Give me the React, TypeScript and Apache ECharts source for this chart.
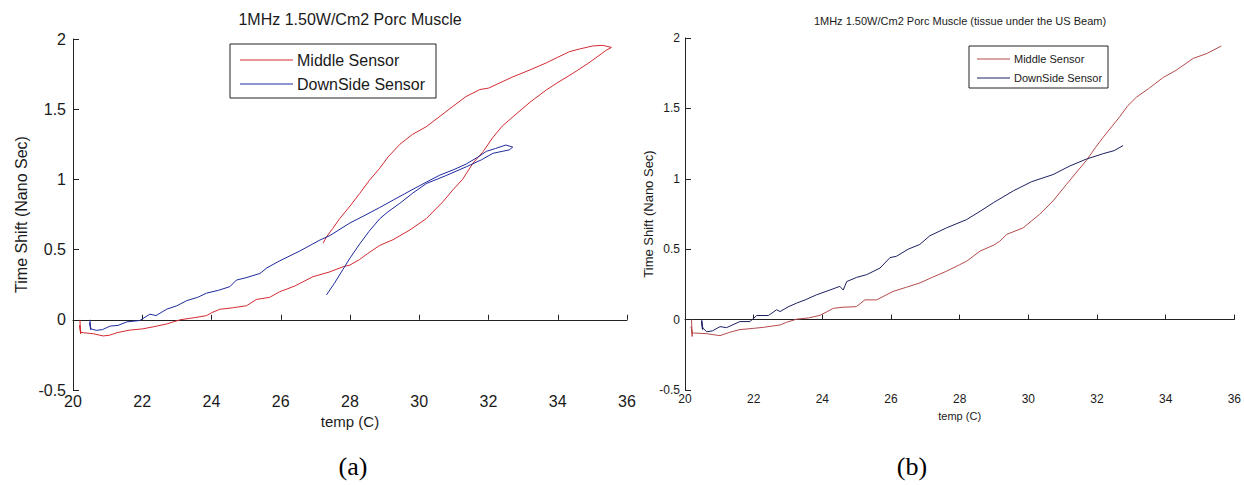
import React, { useEffect, useRef } from "react";
import * as echarts from "echarts";

// ---------- data (temperature °C, time shift ns) ----------
const xTicks = [20, 36, 2];
const yTicks = [-0.5, 2, 0.5];

const middleA: [number, number][] = [
  [20.2, 0.0], [20.22, -0.1], [20.19, -0.04], [20.23, -0.09], [20.3, -0.092], [20.6, -0.1],
  [20.87, -0.115], [21.05, -0.11], [21.3, -0.09], [21.65, -0.073], [22.0, -0.065], [22.32, -0.05],
  [22.7, -0.03], [23.09, 0.0], [23.5, 0.015], [23.86, 0.03], [24.0, 0.05], [24.24, 0.075],
  [24.6, 0.085], [25.01, 0.1], [25.3, 0.145], [25.68, 0.16], [25.97, 0.2], [26.4, 0.24],
  [26.93, 0.307], [27.4, 0.34], [27.8, 0.378], [28.0, 0.39], [28.28, 0.43], [28.5, 0.47],
  [28.86, 0.53], [29.24, 0.57], [29.73, 0.64], [30.2, 0.72], [30.68, 0.84], [30.97, 0.925],
  [31.25, 1.0], [31.55, 1.115], [31.85, 1.2], [32.13, 1.3], [32.4, 1.38], [32.71, 1.447],
  [33.2, 1.55], [33.67, 1.637], [34.0, 1.69], [34.44, 1.756], [34.9, 1.83], [35.4, 1.92],
  [35.55, 1.94], [35.3, 1.955], [35.0, 1.95], [34.65, 1.93], [34.34, 1.91], [34.0, 1.87],
  [33.67, 1.83], [33.2, 1.78], [32.7, 1.73], [32.0, 1.65], [31.75, 1.64], [31.35, 1.59],
  [30.97, 1.52], [30.6, 1.45], [30.2, 1.375], [29.8, 1.32], [29.44, 1.25], [29.1, 1.16],
  [28.86, 1.08], [28.55, 0.99], [28.28, 0.9], [28.0, 0.81], [27.7, 0.72], [27.5, 0.65],
  [27.32, 0.59], [27.22, 0.545],
];

const downsideA: [number, number][] = [
  [20.49, 0.0], [20.51, -0.07], [20.48, -0.02], [20.52, -0.065], [20.68, -0.075], [20.85, -0.07],
  [21.07, -0.045], [21.3, -0.04], [21.55, -0.015], [21.93, -0.005], [22.22, 0.04], [22.4, 0.03],
  [22.7, 0.075], [23.0, 0.1], [23.28, 0.136], [23.6, 0.16], [23.86, 0.19], [24.2, 0.21],
  [24.53, 0.236], [24.72, 0.283], [25.0, 0.3], [25.4, 0.33], [25.6, 0.37], [25.97, 0.42],
  [26.55, 0.49], [27.13, 0.568], [27.42, 0.6], [28.0, 0.69], [28.4, 0.74], [28.86, 0.8],
  [29.3, 0.86], [29.82, 0.93], [30.2, 0.98], [30.59, 1.03], [31.0, 1.07], [31.36, 1.11],
  [31.7, 1.16], [31.94, 1.2], [32.2, 1.22], [32.5, 1.245], [32.7, 1.23], [32.6, 1.21],
  [32.4, 1.2], [32.13, 1.186], [31.8, 1.14], [31.36, 1.09], [30.8, 1.03], [30.2, 0.97],
  [29.8, 0.9], [29.44, 0.83], [29.1, 0.77], [28.86, 0.72], [28.55, 0.63], [28.28, 0.54],
  [28.0, 0.44], [27.8, 0.36], [27.55, 0.26], [27.32, 0.177],
];

const middleB: [number, number][] = [
  [20.19, 0.0], [20.21, -0.12], [20.18, -0.05], [20.22, -0.1], [20.24, -0.095], [20.63, -0.1],
  [21.02, -0.114], [21.3, -0.09], [21.6, -0.071], [22.0, -0.062], [22.28, -0.055], [22.77, -0.038],
  [22.96, -0.019], [23.25, 0.003], [23.6, 0.012], [23.93, 0.03], [24.32, 0.08], [24.6, 0.088],
  [24.99, 0.092], [25.24, 0.14], [25.58, 0.14], [26.06, 0.2], [26.45, 0.23], [26.84, 0.26],
  [27.2, 0.3], [27.61, 0.343], [28.0, 0.39], [28.2, 0.414], [28.59, 0.486], [29.0, 0.53],
  [29.17, 0.557], [29.37, 0.605], [29.85, 0.652], [30.33, 0.748], [30.72, 0.843], [31.11, 0.96],
  [31.45, 1.06], [31.69, 1.13], [31.95, 1.22], [32.18, 1.295], [32.66, 1.44], [32.9, 1.52],
  [33.15, 1.58], [33.5, 1.64], [33.93, 1.72], [34.3, 1.77], [34.8, 1.855], [35.2, 1.89],
  [35.62, 1.943],
];

const downsideB: [number, number][] = [
  [20.49, 0.0], [20.51, -0.07], [20.48, -0.01], [20.52, -0.06], [20.63, -0.086], [20.8, -0.08],
  [21.02, -0.05], [21.21, -0.057], [21.6, -0.014], [21.89, -0.014], [22.09, 0.029], [22.43, 0.029],
  [22.67, 0.07], [22.77, 0.057], [23.0, 0.09], [23.25, 0.117], [23.5, 0.14], [23.83, 0.176],
  [24.22, 0.21], [24.51, 0.236], [24.61, 0.21], [24.71, 0.27], [25.0, 0.3], [25.29, 0.319],
  [25.68, 0.366], [25.97, 0.44], [26.16, 0.45], [26.5, 0.5], [26.84, 0.534], [27.13, 0.595],
  [27.62, 0.652], [28.2, 0.71], [28.6, 0.77], [28.98, 0.83], [29.56, 0.914], [30.1, 0.98],
  [30.72, 1.03], [31.2, 1.09], [31.69, 1.14], [32.2, 1.18], [32.5, 1.2], [32.76, 1.236],
];

const seriesNames = ["Middle Sensor", "DownSide Sensor"];
const titles = ["1MHz 1.50W/Cm2 Porc Muscle", "1MHz 1.50W/Cm2 Porc Muscle (tissue under the US Beam)"];
const xName = "temp (C)";
const yName = "Time Shift (Nano Sec)";
const captions = ["(a)", "(b)"];

const FONT = "'Liberation Sans', Arial, sans-serif";
const SERIF = "'Liberation Serif', 'Times New Roman', serif";
const TXT = "#1a1a1a";
const RED_A = "#d22a32";
const BLUE_A = "#1f2a9c";
const RED_B = "#b44a4c";
const BLUE_B = "#1c2160";

export default function App() {
  const ref = useRef<HTMLDivElement>(null);
  useEffect(() => {
    if (!ref.current) return;
    const chart = echarts.init(ref.current, undefined, { renderer: "svg" });

    const xAxisBase = (idx: number, labelSize: number, nameSize: number, gap: number, margin: number) => ({
      type: "value",
      gridIndex: idx,
      min: xTicks[0],
      max: xTicks[1],
      interval: xTicks[2],
      name: xName,
      nameLocation: "middle",
      nameGap: gap,
      nameTextStyle: { fontFamily: FONT, fontSize: nameSize, color: TXT },
      axisLine: { show: true, lineStyle: { color: "#222", width: 1 } },
      axisTick: { show: true, inside: true, length: 5, lineStyle: { color: "#222" } },
      axisLabel: { fontFamily: FONT, fontSize: labelSize, color: TXT, margin },
      splitLine: { show: false },
    });
    const yAxisBase = (idx: number, labelSize: number, nameSize: number, gap: number, margin: number) => ({
      type: "value",
      gridIndex: idx,
      min: yTicks[0],
      max: yTicks[1],
      interval: yTicks[2],
      name: yName,
      nameLocation: "middle",
      nameGap: gap,
      nameTextStyle: { fontFamily: FONT, fontSize: nameSize, color: TXT },
      axisLine: { show: true, lineStyle: { color: "#222", width: 1 } },
      axisTick: { show: true, inside: true, length: 6, lineStyle: { color: "#222" } },
      axisLabel: { fontFamily: FONT, fontSize: labelSize, color: TXT, margin },
      splitLine: { show: false },
    });

    const line = (name: string, data: [number, number][], color: string, idx: number) => ({
      type: "line",
      name,
      data,
      xAxisIndex: idx,
      yAxisIndex: idx,
      symbol: "none",
      showSymbol: false,
      lineStyle: { color, width: 1 },
      itemStyle: { color },
    });

    const legendBox = (x: number, y: number, w: number, h: number, lx1: number, lx2: number, rows: number[], tx: number, size: number, colors: string[]) => ({
      type: "group",
      children: [
        { type: "rect", shape: { x, y, width: w, height: h }, style: { fill: "#fff", stroke: "#222", lineWidth: 1 } },
        ...rows.map((ry, i) => ({
          type: "line",
          shape: { x1: lx1, y1: ry, x2: lx2, y2: ry },
          style: { stroke: colors[i], lineWidth: 1 },
        })),
        ...rows.map((ry, i) => ({
          type: "text",
          x: tx,
          y: ry,
          style: { text: seriesNames[i], fontFamily: FONT, fontSize: size, fill: TXT, textVerticalAlign: "middle", textAlign: "left" },
        })),
      ],
    });

    chart.setOption({
      animation: false,
      backgroundColor: "#fff",
      grid: [
        { left: 73, top: 39, width: 554, height: 351 },
        { left: 685, top: 38, width: 551, height: 352 },
      ],
      xAxis: [xAxisBase(0, 16, 15, 16, 3), xAxisBase(1, 12, 11, 20, 3)],
      yAxis: [yAxisBase(0, 16, 16, 44, 7), yAxisBase(1, 12, 13, 30, 5)],
      series: [
        line(seriesNames[0], middleA, RED_A, 0),
        line(seriesNames[1], downsideA, BLUE_A, 0),
        line(seriesNames[0], middleB, RED_B, 1),
        line(seriesNames[1], downsideB, BLUE_B, 1),
      ],
      graphic: [
        { type: "text", x: 350, y: 19, style: { text: titles[0], fontFamily: FONT, fontSize: 16, fill: TXT, textAlign: "center", textVerticalAlign: "middle" } },
        { type: "text", x: 960, y: 21, style: { text: titles[1], fontFamily: FONT, fontSize: 11, fill: TXT, textAlign: "center", textVerticalAlign: "middle" } },
        legendBox(230, 44, 206, 54, 240, 293, [60, 84], 297, 16, [RED_A, BLUE_A]),
        legendBox(969, 46, 139, 42, 977, 1010, [59, 78], 1014, 11, [RED_B, BLUE_B]),
        { type: "text", x: 353, y: 466, style: { text: captions[0], fontFamily: SERIF, fontSize: 26, fill: "#000", textAlign: "center", textVerticalAlign: "middle" } },
        { type: "text", x: 912, y: 466, style: { text: captions[1], fontFamily: SERIF, fontSize: 26, fill: "#000", textAlign: "center", textVerticalAlign: "middle" } },
      ],
    });
    return () => chart.dispose();
  }, []);

  return <div ref={ref} style={{ position: "fixed", left: 0, top: 0, width: 1244, height: 485, background: "#fff" }} />;
}
